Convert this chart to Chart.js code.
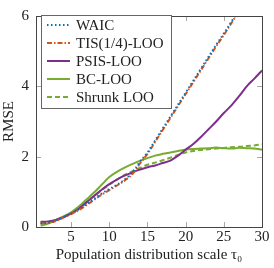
<!DOCTYPE html>
<html>
<head>
<meta charset="utf-8">
<script src="https://cdn.jsdelivr.net/npm/chart.js@4"></script>
<style>
  html, body { margin: 0; padding: 0; background: #fff; }
  #wrap { width: 274px; height: 268px; }
</style>
</head>
<body>
<div id="wrap"><canvas id="myChart" width="274" height="268"></canvas></div>
<script>
const tau = [1,2,3,4,5,6,7,8,9,10,11,12,13,14,15,16,17,18,19,20,21,22,23,24,25,26,27,28,29,30];
const waic = [0.10,0.12,0.18,0.28,0.38,0.50,0.65,0.80,0.95,1.08,1.20,1.35,1.55,1.85,2.12,2.46,2.80,3.14,3.48,3.82,4.16,4.50,4.84,5.18,5.50,5.84,6.18,6.5,6.8,7.1];
const tis = [0.10,0.12,0.17,0.27,0.37,0.48,0.62,0.77,0.92,1.05,1.18,1.32,1.50,1.80,2.08,2.42,2.76,3.10,3.44,3.78,4.12,4.46,4.80,5.14,5.46,5.80,6.14,6.45,6.75,7.05];
const psis = [0.15,0.16,0.20,0.28,0.38,0.52,0.70,0.88,1.06,1.22,1.35,1.46,1.55,1.63,1.70,1.75,1.82,1.89,2.03,2.20,2.36,2.56,2.78,3.00,3.24,3.46,3.72,4.00,4.22,4.45];
const bc = [0.04,0.10,0.20,0.30,0.42,0.58,0.78,0.98,1.20,1.42,1.57,1.69,1.79,1.88,1.96,2.03,2.08,2.12,2.16,2.20,2.22,2.23,2.24,2.26,2.24,2.23,2.25,2.24,2.23,2.20];
const shrunk = [0.12,0.14,0.20,0.28,0.38,0.52,0.70,0.88,1.05,1.20,1.35,1.48,1.58,1.68,1.77,1.83,1.90,1.97,2.05,2.12,2.16,2.19,2.21,2.23,2.25,2.27,2.28,2.30,2.32,2.35];
const yTicks = [0, 2, 4, 6];
const xTicks = [5, 10, 15, 20, 25, 30];

const serif = 'Liberation Serif';

function pts(ys) { return tau.map((t, i) => ({x: t, y: ys[i]})); }

const series = [
  {label: 'WAIC', data: pts(waic), color: '#0072BD', dash: [1.5, 2.5]},
  {label: 'TIS(1/4)-LOO', data: pts(tis), color: '#D95319', dash: [5, 2, 1.5, 2]},
  {label: 'PSIS-LOO', data: pts(psis), color: '#7E2F8E', dash: []},
  {label: 'BC-LOO', data: pts(bc), color: '#77AC30', dash: []},
  {label: 'Shrunk LOO', data: pts(shrunk), color: '#77AC30', dash: [5, 3]}
];

// inside tick marks, frame and legend box
const frame = {
  id: 'frame',
  afterDatasetsDraw(chart) {
    const c = chart.ctx, a = chart.chartArea;
    const xs = chart.scales.x, ys = chart.scales.y;
    c.save();
    c.strokeStyle = '#a8a8a8';
    c.lineWidth = 1;
    c.beginPath();
    xTicks.forEach(v => {
      const px = Math.round(xs.getPixelForValue(v)) + 0.5;
      c.moveTo(px, a.top); c.lineTo(px, a.top + 5);
      c.moveTo(px, a.bottom); c.lineTo(px, a.bottom - 5);
    });
    yTicks.forEach(v => {
      const py = Math.round(ys.getPixelForValue(v)) + 0.5;
      c.moveTo(a.left, py); c.lineTo(a.left + 5, py);
      c.moveTo(a.right, py); c.lineTo(a.right - 5, py);
    });
    c.stroke();
    c.strokeStyle = '#444';
    c.strokeRect(Math.round(a.left) + 0.5, Math.round(a.top) + 0.5,
                 Math.round(a.right - a.left), Math.round(a.bottom - a.top));

    // legend
    const lx = 41.5, ly = 15.5, lw = 130, lh = 93;
    c.fillStyle = '#fff';
    c.fillRect(lx, ly, lw, lh);
    c.strokeStyle = '#666';
    c.strokeRect(lx, ly, lw, lh);
    c.font = '15px ' + serif;
    c.textBaseline = 'middle';
    chart.data.datasets.forEach((ds, i) => {
      const y = 25 + i * 18;
      c.strokeStyle = ds.borderColor;
      c.lineWidth = 2;
      c.setLineDash(ds.borderDash || []);
      c.beginPath();
      c.moveTo(47, y); c.lineTo(70, y);
      c.stroke();
      c.setLineDash([]);
      c.fillStyle = '#222';
      c.fillText(ds.label, 76, y + 1);
    });
    c.restore();
  }
};

const ctx = document.getElementById('myChart').getContext('2d');
const myChart = new Chart(ctx, {
  type: 'line',
  data: {
    datasets: series.map(s => ({
      label: s.label,
      data: s.data,
      borderColor: s.color,
      backgroundColor: s.color,
      borderDash: s.dash,
      borderWidth: 2,
      pointRadius: 0,
      fill: false,
      tension: 0.35
    }))
  },
  options: {
    responsive: false,
    animation: false,
    layout: { padding: { top: 10, right: 12, left: 0, bottom: 4 } },
    plugins: { legend: { display: false }, tooltip: { enabled: false } },
    scales: {
      x: {
        type: 'linear',
        min: 0.4,
        max: 30,
        afterBuildTicks: s => { s.ticks = xTicks.map(v => ({value: v})); },
        afterFit: s => { s.height = 37; },
        grid: { display: false, drawTicks: false },
        border: { display: false },
        ticks: { color: '#222', font: { family: serif, size: 15 }, padding: 1, maxRotation: 0 },
        title: { display: true, text: 'Population distribution scale τ₀', color: '#222',
                 font: { family: serif, size: 15 }, padding: { top: 0, bottom: 0 } }
      },
      y: {
        min: 0,
        max: 6,
        afterBuildTicks: s => { s.ticks = yTicks.map(v => ({value: v})); },
        afterFit: s => { s.width = 36; },
        grid: { display: false, drawTicks: false },
        border: { display: false },
        ticks: { color: '#222', font: { family: serif, size: 15 }, padding: 7 },
        title: { display: true, text: 'RMSE', color: '#222',
                 font: { family: serif, size: 15 }, padding: { top: 0, bottom: 0 } }
      }
    }
  },
  plugins: [frame]
});
</script>
</body>
</html>
